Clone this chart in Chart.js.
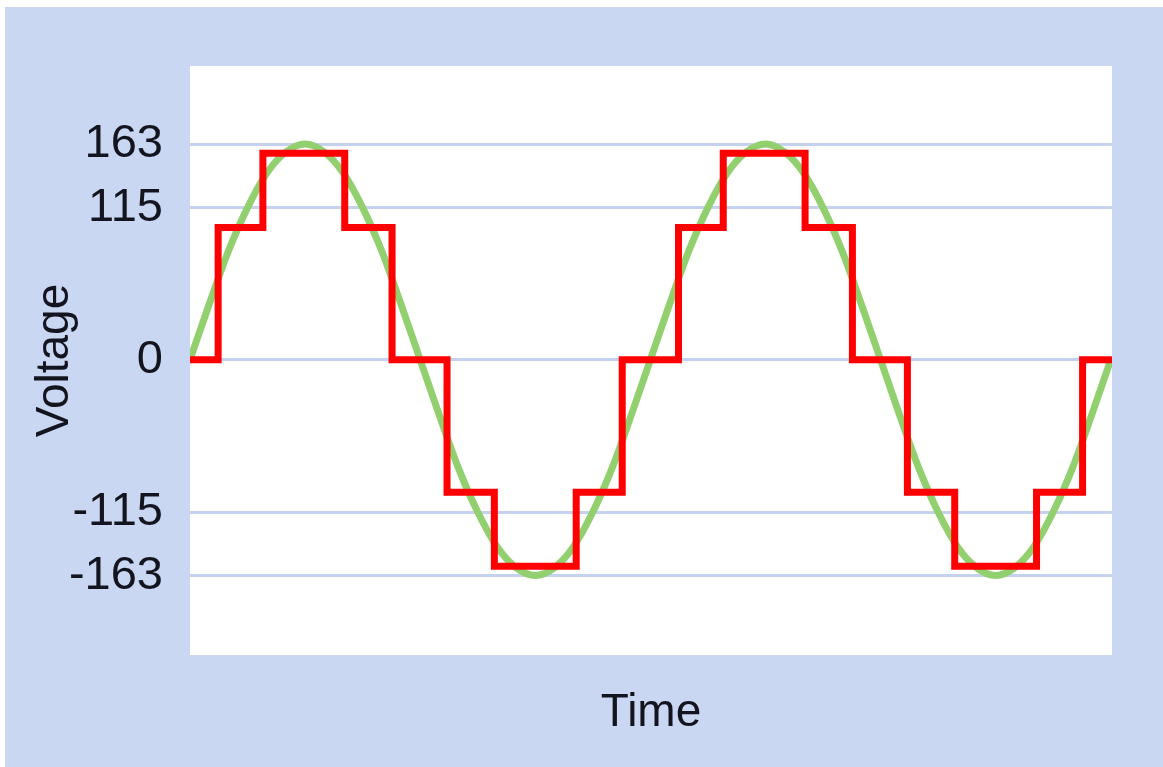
<!DOCTYPE html>
<html>
<head>
<meta charset="utf-8">
<script src="https://cdn.jsdelivr.net/npm/chart.js@4"></script>
<style>
  html, body { margin: 0; padding: 0; background: #ffffff; }
  #wrap { width: 1163px; height: 767px; position: relative; }
</style>
</head>
<body>
<div id="wrap"><canvas id="waveChart"></canvas></div>
<script>
// time axis in degrees (two full cycles), voltage
const sineTime = [0, 15, 30, 45, 60, 75, 90, 105, 120, 135, 150, 165, 180,
  195, 210, 225, 240, 255, 270, 285, 300, 315, 330, 345, 360,
  375, 390, 405, 420, 435, 450, 465, 480, 495, 510, 525, 540,
  555, 570, 585, 600, 615, 630, 645, 660, 675, 690, 705, 720];
const sineVolt = [0, 42, 82, 115, 141, 157, 163, 157, 141, 115, 82, 42, 0,
  -42, -82, -115, -141, -157, -163, -157, -141, -115, -82, -42, 0,
  42, 82, 115, 141, 157, 163, 157, 141, 115, 82, 42, 0,
  -42, -82, -115, -141, -157, -163, -157, -141, -115, -82, -42, 0];

// modified (stepped) wave: time where each level starts, and the level
const stepTime = [0, 22, 57, 121, 158, 201, 238, 302, 338,
  382, 417, 481, 518, 561, 598, 662, 698, 720];
const stepVolt = [0, 100, 156, 100, 0, -100, -156, -100, 0,
  100, 156, 100, 0, -100, -156, -100, 0, 0];

const tickValues = [163, 115, 0, -115, -163];
const tickLabels = ['163', '115', '0', '-115', '-163'];

const fontFam = '"Liberation Sans", Arial, sans-serif';
const textColor = '#14141e';

// panel behind the chart + white plot area
const panelBg = {
  id: 'panelBg',
  beforeDraw(chart) {
    const c = chart.ctx, a = chart.chartArea;
    c.save();
    c.fillStyle = '#ffffff';
    c.fillRect(0, 0, chart.width, chart.height);
    c.fillStyle = '#c9d7f3';
    c.fillRect(5, 7, chart.width - 5, chart.height - 7);
    c.fillStyle = '#ffffff';
    c.fillRect(a.left, a.top, a.right - a.left, a.bottom - a.top);
    c.restore();
  }
};

const ctx = document.getElementById('waveChart').getContext('2d');
const waveChart = new Chart(ctx, {
  type: 'line',
  data: {
    datasets: [{
      label: 'Modified sine',
      data: stepTime.map((t, i) => ({ x: t, y: stepVolt[i] })),
      borderColor: '#ff0000',
      borderWidth: 7,
      stepped: 'before',
      borderJoinStyle: 'miter',
      borderCapStyle: 'round',
      pointRadius: 0,
      fill: false
    }, {
      label: 'Sine',
      data: sineTime.map((t, i) => ({ x: t, y: sineVolt[i] })),
      borderColor: '#92d06f',
      borderWidth: 7,
      cubicInterpolationMode: 'monotone',
      pointRadius: 0,
      fill: false
    }]
  },
  options: {
    responsive: true,
    maintainAspectRatio: false,
    animation: false,
    layout: { padding: { top: 66, right: 51, left: 0, bottom: 0 } },
    plugins: {
      legend: { display: false },
      tooltip: { enabled: false }
    },
    scales: {
      x: {
        type: 'linear',
        min: 0,
        max: 721,
        grid: { display: false },
        border: { display: false },
        ticks: { display: false },
        title: {
          display: true,
          text: 'Time',
          color: textColor,
          font: { family: fontFam, size: 46 },
          padding: { top: 0, bottom: 26 }
        },
        afterFit(scale) { scale.height = 112; }
      },
      y: {
        min: -223,
        max: 222,
        afterBuildTicks(scale) {
          scale.ticks = tickValues.map(v => ({ value: v }));
        },
        grid: {
          color: '#c5d2ef',
          lineWidth: 3,
          drawTicks: false
        },
        border: { display: false },
        ticks: {
          padding: 27,
          color: textColor,
          font: { family: fontFam, size: 47 },
          callback: (v) => tickLabels[tickValues.indexOf(v)]
        },
        title: {
          display: true,
          text: 'Voltage',
          color: textColor,
          font: { family: fontFam, size: 46 },
          padding: { top: 28, bottom: 0 }
        },
        afterFit(scale) { scale.width = 190; }
      }
    }
  },
  plugins: [panelBg]
});
</script>
</body>
</html>
